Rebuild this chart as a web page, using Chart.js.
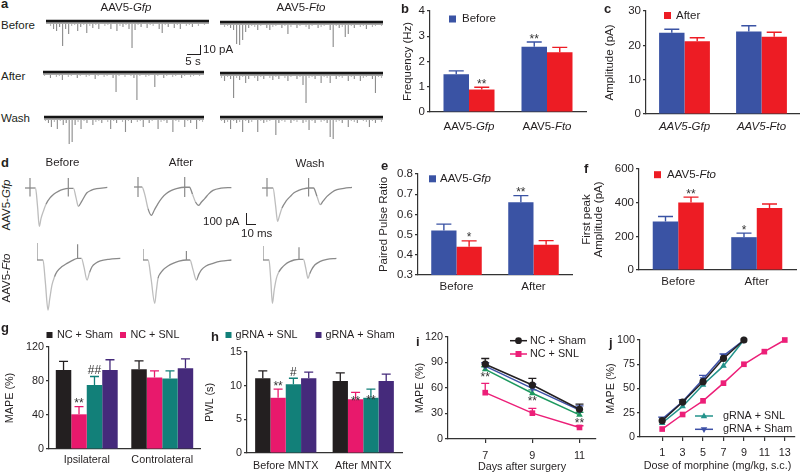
<!DOCTYPE html>
<html>
<head>
<meta charset="utf-8">
<script src="https://cdn.jsdelivr.net/npm/chart.js@4.4.1/dist/chart.umd.min.js"></script>
<style>
  html, body { margin: 0; padding: 0; background: #fff; }
  #fig { position: relative; width: 800px; height: 474px; overflow: hidden; background: #fff;
         font-family: "Liberation Sans", Arial, Helvetica, sans-serif; color: #231f20; }
  #fig canvas { position: absolute; }
  .t { position: absolute; white-space: nowrap; line-height: 1; }
  .sb { position: absolute; background: #231f20; }
</style>
</head>
<body>
<div id="fig"></div>
<script>
// ---- panel a: spontaneous currents, depth of each downward event (pA), left to right
const spontGfpBefore = [3,5,8,10,6,25,8,13,5,4, 10,6,4,12,5,7,4,8,3,5, 4,8,3,10,5,6,4,8,27,9, 4,6,3,7,4,5,3,8,12,4, 6,3,7,4,8,3,5,4,6,3, 5,3,4,3];
const spontGfpAfter = [4,3,6,3,5,4,8,3,5,4, 3,6,4,3,5,4,3,7,4,3, 5,4,3,6,20,4,3,5,3,4, 6,28,4,3,5,4,3,15,4,3, 6,4,3,5,4,3,6,4,3,5, 4,3,4,3];
const spontGfpWash = [4,6,10,5,12,4,8,6,27,25, 8,5,12,4,6,3,8,5,4,6, 3,5,12,4,6,3,5,15,4,6, 3,5,4,10,3,6,4,3,12,5, 4,6,3,15,4,5,3,10,4,6, 3,12,4,5];
const spontFtoBefore = [3,5,4,6,8,22,23,18,10,6, 4,5,8,4,3,6,8,5,4,3, 6,4,12,5,3,6,4,3,5,7, 4,3,6,5,4,3,8,25,4,6, 5,15,12,4,6,3,5,4,7,3, 5,4,3,4];
const spontFtoAfter = [5,8,4,6,25,5,7,4,10,6, 3,5,8,4,6,3,5,7,4,6, 3,5,8,4,3,6,4,12,30,5, 4,6,3,10,4,5,10,3,6,4, 5,3,8,4,6,3,8,5,4,3, 6,20,4,5];
const spontFtoWash = [4,6,5,12,4,6,5,15,4,6, 5,3,15,4,6,5,4,3,18,6, 4,5,3,6,4,5,3,6,5,13, 4,6,3,5,4,6,20,22,5,4, 6,3,10,4,5,6,3,4,5,10, 4,6,3,5];

// ---- panel d: paired-pulse traces, [ms, pA]; artefacts are separate strokes (null = break)
const gfpBeforeTrace = [[0,0],[10.5,0],[12.5,-150],[14.3,-320],[16,-255],[18.3,-195],[21,-135],[25,-83],[29,-50],[33.3,-28],[38,-12],[43.3,-3],[48.5,-3],[51,-80],[53.3,-153],[56.7,-111],[61.7,-42],[66,-20],[71.7,-6],[82.3,5]];
const gfpBeforeArt = [[5,83],[5,-70],null,[43.3,83],[43.3,-70]];
const gfpAfterTrace = [[0,0],[8,0],[11,-70],[14,-180],[17.4,-236],[20.5,-190],[24,-138],[28,-90],[32.4,-55],[37,-30],[42.4,-14],[50.7,-2],[55.5,-2],[58.5,-60],[61.5,-125],[64.7,-153],[67.5,-125],[70.7,-97],[75,-55],[79,-28],[87,-10],[97.4,-5]];
const gfpAfterArt = [[4,83],[4,-83],null,[50.7,83],[50.7,-83]];
const gfpWashTrace = [[0,0],[11,0],[13.5,-140],[15.6,-278],[17.5,-230],[20,-167],[24,-110],[28.3,-70],[32,-40],[36.6,-20],[41,-8],[46.6,0],[51.5,0],[55,-70],[58.3,-139],[61,-110],[65,-70],[70,-35],[75,-14],[82,-3],[90,5]];
const gfpWashArt = [[5,83],[5,-70],null,[46.6,83],[46.6,-70]];
const ftoBeforeTrace = [[0,0],[6,0],[8.3,-180],[11,-417],[12.8,-320],[15,-208],[17.5,-140],[20,-97],[25,-55],[30,-28],[35,-5],[40.6,14],[44.5,14],[47,-60],[50,-167],[52.5,-105],[55,-56],[59,-25],[63.3,-8],[72,6],[83.3,14]];
const ftoBeforeArt = [[0,142],[0,0],null,[40.6,131],[40.6,14]];
const ftoAfterTrace = [[0,0],[5,0],[8,-150],[11.7,-361],[13.3,-260],[15,-153],[17.5,-110],[20,-83],[25,-50],[30,-28],[36,-10],[43.4,0],[47,0],[50,-80],[53.4,-167],[55.8,-120],[58.4,-83],[63,-50],[70,-28],[78,-10],[88.4,0]];
const ftoAfterArt = [[0,92],[0,0],null,[43.4,75],[43.4,0]];
const ftoWashTrace = [[0,0],[6,0],[7.8,-170],[9.4,-361],[11.2,-250],[13.4,-153],[15.8,-100],[18.4,-69],[22.5,-35],[26.7,-14],[31,0],[36,6],[40.5,6],[42.8,-70],[45,-153],[46.7,-115],[48.4,-83],[52,-40],[56.7,-14],[64,5],[73.4,14]];
const ftoWashArt = [[0,117],[0,0],null,[36,106],[36,6]];

// ---- panels b, c
const virusGroups = ["AAV5-Gfp", "AAV5-Fto"];
const freqBefore = [1.5, 2.58];
const freqBeforeErr = [0.13, 0.19];
const freqAfter = [0.89, 2.37];
const freqAfterErr = [0.09, 0.19];
const ampBefore = [23.7, 24.0];
const ampBeforeErr = [1.0, 1.7];
const ampAfter = [21.2, 22.5];
const ampAfterErr = [1.0, 1.3];

// ---- panels e, f
const phases = ["Before", "After"];
const pprGfp = [0.52, 0.66];
const pprGfpErr = [0.032, 0.033];
const pprFto = [0.44, 0.45];
const pprFtoErr = [0.029, 0.02];
const peakGfp = [288, 195];
const peakGfpErr = [30, 24];
const peakFto = [401, 368];
const peakFtoErr = [32, 24];

// ---- panel g
const sides = ["Ipsilateral", "Controlateral"];
const gNcSham = [93, 93.7];
const gNcShamErr = [10, 10];
const gNcSnl = [40.8, 84];
const gNcSnlErr = [9, 8];
const gGrnaSnl = [75.3, 83];
const gGrnaSnlErr = [10, 9];
const gGrnaSham = [93, 95];
const gGrnaShamErr = [12, 11];

// ---- panel h
const mntxGroups = ["Before MNTX", "After MNTX"];
const hNcSham = [11.1, 10.7];
const hNcShamErr = [1.1, 1.2];
const hNcSnl = [8.2, 8.0];
const hNcSnlErr = [1.3, 1.0];
const hGrnaSnl = [10.2, 8.2];
const hGrnaSnlErr = [0.9, 1.3];
const hGrnaSham = [11.1, 10.7];
const hGrnaShamErr = [0.9, 1.0];

// ---- panel i
const days = [7, 9, 11];
const iNcSham = [88, 63.5, 35];
const iNcShamErr = [6.7, 7.8, 6];
const iNcSnl = [54.5, 30.4, 13.6];
const iNcSnlErr = [11, 5.6, 2];
const iGrnaSnl = [82, 53.8, 28.4];
const iGrnaSnlErr = [3, 4, 3];
const iGrnaSham = [85.7, 59.6, 34];
const iGrnaShamErr = [4, 5, 5];

// ---- panel j
const doses = [1, 3, 5, 7, 9, 11, 13];
const jNcSnl = [8.2, 23.2, 37.3, 55.5, 75, 88, 100];
const jNcSham = [16.8, 36, 57, 81, 100];
const jGrnaSnl = [14.4, 31.5, 53.8, 73.3, 100];
const jGrnaSham = [18.5, 36.5, 59.6, 83.6, 100];
const jGrnaShamErr = [2, 2, 4, 2, 0];

// ---- styling
const FONT = '"Liberation Sans", Arial, Helvetica, sans-serif';
const INK = "#231f20";
const AX = "#333333";
const BLUE = "#3a53a4", RED = "#ed1c24";
const BLACK = "#231f20", PINK = "#e8196c", TEAL = "#128079", PURPLE = "#452a7b";
const L_PINK = "#ec1f78", L_GREEN = "#1d9960", L_TEAL = "#23938b", L_BLUE = "#3d50a6";
const FS_TOP = 11.5, FS_BOT = 10.8;

Chart.defaults.font.family = FONT;
Chart.defaults.color = INK;
Chart.defaults.animation = false;
Chart.defaults.responsive = false;
Chart.defaults.plugins.legend.display = false;
Chart.defaults.plugins.tooltip.enabled = false;

const fig = document.getElementById("fig");

function canvasAt(l, t, r, b) {
  l = Math.round(l); t = Math.round(t); r = Math.round(r); b = Math.round(b);
  const c = document.createElement("canvas");
  c.width = r - l;
  c.height = b - t;
  c.style.left = l + "px";
  c.style.top = t + "px";
  c.style.width = (r - l) + "px";
  c.style.height = (b - t) + "px";
  fig.appendChild(c);
  return c;
}

function label(html, x, y, o = {}) {
  const d = document.createElement("div");
  d.className = "t";
  d.innerHTML = html;
  d.style.left = x + "px";
  d.style.top = y + "px";
  d.style.fontSize = (o.size || FS_TOP) + "px";
  if (o.bold) d.style.fontWeight = "bold";
  const tx = o.align === "center" ? "-50%" : o.align === "right" ? "-100%" : "0";
  d.style.transform = "translate(" + tx + ",-50%)" + (o.rot ? " rotate(-90deg)" : "");
  fig.appendChild(d);
}

function scaleBar(x, y, w, h) {
  const d = document.createElement("div");
  d.className = "sb";
  d.style.left = x + "px";
  d.style.top = y + "px";
  d.style.width = w + "px";
  d.style.height = h + "px";
  fig.appendChild(d);
}

function drawRich(ctx, text, x, y, size, align, allItalic) {
  let parts;
  if (allItalic) parts = [[text, true]];
  else if (text.startsWith("AAV5-")) parts = [["AAV5-", false], [text.slice(5), true]];
  else parts = [[text, false]];
  ctx.save();
  ctx.fillStyle = INK;
  ctx.textBaseline = "middle";
  ctx.textAlign = "left";
  let w = 0;
  parts.forEach(([s, it]) => {
    ctx.font = (it ? "italic " : "") + size + "px " + FONT;
    w += ctx.measureText(s).width;
  });
  let cx = align === "center" ? x - w / 2 : x;
  parts.forEach(([s, it]) => {
    ctx.font = (it ? "italic " : "") + size + "px " + FONT;
    ctx.fillText(s, cx, y);
    cx += ctx.measureText(s).width;
  });
  ctx.restore();
}

function drawMarker(ctx, style, x, y, r, color) {
  ctx.save();
  ctx.fillStyle = color;
  ctx.beginPath();
  if (style === "circle") {
    ctx.arc(x, y, r, 0, Math.PI * 2);
  } else if (style === "rect") {
    const s = r * 0.75;
    ctx.rect(x - s, y - s, 2 * s, 2 * s);
  } else {
    const dir = style === "triangleDown" ? -1 : 1;
    ctx.moveTo(x, y - dir * r);
    ctx.lineTo(x + r * 0.9, y + dir * r * 0.6);
    ctx.lineTo(x - r * 0.9, y + dir * r * 0.6);
    ctx.closePath();
  }
  ctx.fill();
  ctx.restore();
}

// error bars (upper half, Prism style), drawn under each dataset
const errorBars = {
  id: "errorBars",
  beforeDatasetDraw(chart, args) {
    const ds = chart.data.datasets[args.index];
    if (!ds.errors) return;
    const ys = chart.scales.y, ctx = chart.ctx;
    ctx.save();
    ctx.strokeStyle = ds.errColor || ds.backgroundColor;
    ctx.lineWidth = ds.errWidth || 1.4;
    args.meta.data.forEach((el, j) => {
      const err = ds.errors[j];
      if (!err) return;
      const v = ds.data[j];
      const val = (v !== null && typeof v === "object") ? v.y : v;
      const top = ys.getPixelForValue(val + err);
      const half = (ds.capWidth || 10) / 2;
      ctx.beginPath();
      ctx.moveTo(el.x, el.y);
      ctx.lineTo(el.x, top);
      ctx.moveTo(el.x - half, top);
      ctx.lineTo(el.x + half, top);
      ctx.stroke();
    });
    ctx.restore();
  }
};

// significance marks (* / #)
const sigMarks = {
  id: "sigMarks",
  afterDatasetsDraw(chart) {
    const ys = chart.scales.y, ctx = chart.ctx;
    chart.data.datasets.forEach((ds, i) => {
      if (!ds.marks) return;
      const meta = chart.getDatasetMeta(i);
      meta.data.forEach((el, j) => {
        const m = ds.marks[j];
        if (!m) return;
        const v = ds.data[j];
        const val = (v !== null && typeof v === "object") ? v.y : v;
        const err = ds.errors ? ds.errors[j] : 0;
        const at = ds.markAt ? ds.markAt[j] : "err";
        let base;
        if (at === "below") base = el.y + 12;
        else if (at === "bar") base = el.y + 6;
        else base = ys.getPixelForValue(val + err) + (m.includes("#") ? -2 : 0.5);
        ctx.save();
        ctx.fillStyle = "#333";
        ctx.font = "12px " + FONT;
        ctx.textAlign = "center";
        ctx.textBaseline = "alphabetic";
        ctx.fillText(m, el.x, base);
        ctx.restore();
      });
    });
  }
};

Chart.register(errorBars, sigMarks);

function keyPlugin(items, ox, oy, size) {
  return {
    id: "key",
    afterDraw(chart) {
      const ctx = chart.ctx;
      items.forEach(it => {
        const y = it.y - oy;
        if (it.box) {
          ctx.fillStyle = it.color;
          ctx.fillRect(it.x - ox, y - it.box / 2, it.box, it.box);
        } else {
          ctx.save();
          ctx.strokeStyle = it.color;
          ctx.lineWidth = 1.5;
          ctx.beginPath();
          ctx.moveTo(it.x - ox, y);
          ctx.lineTo(it.x2 - ox, y);
          ctx.stroke();
          ctx.restore();
          drawMarker(ctx, it.point, (it.x + it.x2) / 2 - ox, y, it.r, it.color);
        }
        drawRich(ctx, it.text, it.tx - ox, y, size, "left", false);
      });
    }
  };
}

function richTicks(size, allItalic, pad) {
  return {
    id: "richTicks",
    afterDraw(chart) {
      const xs = chart.scales.x;
      chart.data.labels.forEach((lab, i) => {
        drawRich(chart.ctx, lab, xs.getPixelForTick(i), chart.chartArea.bottom + pad + size * 0.6, size, "center", allItalic);
      });
    }
  };
}

function yScale(o, L, cl, fs) {
  return {
    min: o.yMin,
    max: o.yMax,
    ticks: { stepSize: o.step, padding: 2, font: { size: fs }, color: INK, callback: o.fmt || (v => v) },
    grid: { display: true, drawOnChartArea: false, drawTicks: true, tickLength: 3, color: AX, lineWidth: 1.2 },
    border: { display: true, color: AX, width: 1.2 },
    title: { display: true, text: o.yTitle, color: INK, font: { size: fs, lineHeight: o.titleLH || 1.2 }, padding: { top: o.titlePad, bottom: 0 } },
    afterFit: s => { s.width = L - cl; }
  };
}

function barPanel(o) {
  const [L, T, R, B] = o.area, [cl, ct, cr, cb] = o.box;
  const fs = o.fs;
  const plugins = [];
  if (o.key) plugins.push(keyPlugin(o.key, cl, ct, fs));
  if (o.rich) plugins.push(richTicks(fs, o.rich === "italic", o.xPad));
  return new Chart(canvasAt(cl, ct, cr, cb), {
    type: "bar",
    data: {
      labels: o.labels,
      datasets: o.series.map(s => ({
        data: s.values, errors: s.errors, marks: s.marks, markAt: s.markAt,
        backgroundColor: s.color, borderWidth: 0,
        barPercentage: 1, categoryPercentage: o.catPct,
        capWidth: o.cap, errWidth: o.errWidth
      }))
    },
    options: {
      layout: { padding: { top: T - ct, right: cr - R, left: 0, bottom: 0 } },
      scales: {
        x: {
          offset: true,
          grid: { display: false, drawTicks: false },
          border: { display: true, color: AX, width: 1.2 },
          ticks: { display: !o.rich, padding: o.xPad, font: { size: fs }, color: INK, maxRotation: 0, autoSkip: false },
          afterFit: s => { s.height = cb - B; }
        },
        y: yScale(o, L, cl, fs)
      }
    },
    plugins
  });
}

function linePanel(o) {
  const [L, T, R, B] = o.area, [cl, ct, cr, cb] = o.box;
  const fs = o.fs;
  return new Chart(canvasAt(cl, ct, cr, cb), {
    type: "scatter",
    data: {
      datasets: o.series.map(s => ({
        data: s.values.map((v, i) => ({ x: o.xs[i], y: v })),
        errors: s.errors, marks: s.marks, markAt: s.markAt,
        showLine: true, borderColor: s.color, backgroundColor: s.color, borderWidth: 1.5,
        pointStyle: s.point, pointRadius: s.r, pointRotation: s.rot || 0, pointBorderWidth: 0,
        capWidth: 8, errWidth: 1.3, clip: false
      }))
    },
    options: {
      layout: { padding: { top: T - ct, right: cr - R, left: 0, bottom: 0 } },
      scales: {
        x: {
          type: "linear", min: o.xMin, max: o.xMax,
          afterBuildTicks: s => { s.ticks = o.xTicks.map(v => ({ value: v })); },
          grid: { display: true, drawOnChartArea: false, drawTicks: true, tickLength: 4, color: AX, lineWidth: 1.2 },
          border: { display: true, color: AX, width: 1.2 },
          ticks: { padding: o.xPad, font: { size: fs }, color: INK, maxRotation: 0 },
          title: { display: true, text: o.xTitle, color: INK, font: { size: fs }, padding: { top: 0, bottom: o.xTitlePad } },
          afterFit: s => { s.height = cb - B; }
        },
        y: yScale(o, L, cl, fs)
      }
    },
    plugins: o.key ? [keyPlugin(o.key, cl, ct, fs)] : []
  });
}

// ---- panel a traces
const zeroLine = {
  id: "zeroLine",
  afterDatasetsDraw(chart) {
    const y = chart.scales.y.getPixelForValue(0), a = chart.chartArea, ctx = chart.ctx;
    ctx.save();
    ctx.strokeStyle = "#a8a8a8";
    ctx.lineWidth = 2;
    ctx.beginPath();
    ctx.moveTo(a.left, y + 2);
    ctx.lineTo(a.right, y + 2);
    ctx.stroke();
    ctx.strokeStyle = "#151515";
    ctx.lineWidth = 2.4;
    ctx.beginPath();
    ctx.moveTo(a.left, y);
    ctx.lineTo(a.right, y);
    ctx.stroke();
    ctx.restore();
  }
};

function spontTrace(depths, left, right, base) {
  new Chart(canvasAt(left, base - 3, right, base + 31), {
    type: "bar",
    data: {
      labels: depths.map((_, i) => i),
      datasets: [{
        data: depths.map(d => -d),
        backgroundColor: ctx => (ctx.raw > -6 ? "#b8b8b8" : "#8e8e8e"),
        borderWidth: 0, barPercentage: 0.38, categoryPercentage: 1
      }]
    },
    options: {
      layout: { padding: { top: 3 } },
      scales: { x: { display: false }, y: { display: false, min: -31, max: 0 } }
    },
    plugins: [zeroLine]
  });
}

spontTrace(spontGfpBefore, 46, 209, 21);
spontTrace(spontGfpAfter, 43, 204, 72);
spontTrace(spontGfpWash, 44, 204, 117);
spontTrace(spontFtoBefore, 220, 383, 22);
spontTrace(spontFtoAfter, 220, 383, 73);
spontTrace(spontFtoWash, 220, 383, 117);

// ---- panel d traces (1 px = 1 ms, 1 px = 8.33 pA)
function toXY(pairs) {
  let last = 0;
  return pairs.map(p => {
    if (p === null) return { x: last, y: null };
    last = p[0];
    return { x: p[0], y: p[1] };
  });
}

function pulseTrace(trace, art, left, base) {
  new Chart(canvasAt(left, base - 21, left + 100, base + 54), {
    type: "scatter",
    data: {
      datasets: [
        {
          data: toXY(trace), showLine: true, pointRadius: 0, borderWidth: 1.3,
          borderColor: "#8a8a8a", cubicInterpolationMode: "monotone",
          segment: {
            borderColor: ctx => Math.abs(ctx.p1.y - ctx.p0.y) > 2.5 * Math.abs(ctx.p1.x - ctx.p0.x) ? "#bdbdbd" : "#8a8a8a"
          }
        },
        { data: toXY(art), showLine: true, pointRadius: 0, borderWidth: 1.2, borderColor: "#8a8a8a", spanGaps: false }
      ]
    },
    options: {
      layout: { padding: 0 },
      scales: {
        x: { type: "linear", display: false, min: 0, max: 100 },
        y: { display: false, min: -450, max: 175 }
      }
    }
  });
}

pulseTrace(gfpBeforeTrace, gfpBeforeArt, 25, 188);
pulseTrace(gfpAfterTrace, gfpAfterArt, 134, 187);
pulseTrace(gfpWashTrace, gfpWashArt, 262, 188);
pulseTrace(ftoBeforeTrace, ftoBeforeArt, 37, 260);
pulseTrace(ftoAfterTrace, ftoAfterArt, 143, 260);
pulseTrace(ftoWashTrace, ftoWashArt, 263, 260);

// ---- panel b
barPanel({
  area: [430, 11, 586, 112], box: [395, 0, 592, 140], fs: FS_TOP,
  labels: virusGroups, rich: "mixed", xPad: 8,
  yMin: 0, yMax: 4, step: 1, yTitle: "Frequency (Hz)", titlePad: 5.6,
  catPct: 0.654, cap: 15, errWidth: 1.4,
  series: [
    { values: freqBefore, errors: freqBeforeErr, color: BLUE, marks: ["", "**"] },
    { values: freqAfter, errors: freqAfterErr, color: RED, marks: ["**", ""] }
  ],
  key: [{ box: 7, color: BLUE, x: 449, y: 19, tx: 462, text: "Before" }]
});

// ---- panel c
barPanel({
  area: [646, 11, 800, 114], box: [600, 0, 804, 140], fs: FS_TOP,
  labels: virusGroups, rich: "italic", xPad: 6,
  yMin: 0, yMax: 30, step: 10, yTitle: "Amplitude (pA)", titlePad: 3.2,
  catPct: 0.66, cap: 15, errWidth: 1.4,
  series: [
    { values: ampBefore, errors: ampBeforeErr, color: BLUE },
    { values: ampAfter, errors: ampAfterErr, color: RED }
  ],
  key: [{ box: 7, color: RED, x: 664, y: 15.5, tx: 676, text: "After" }]
});

// ---- panel e
barPanel({
  area: [418, 174, 572, 275], box: [372, 150, 576, 300], fs: FS_TOP,
  labels: phases, xPad: 5,
  yMin: 0.3, yMax: 0.8, step: 0.1, fmt: v => v.toFixed(1), yTitle: "Paired Pulse Ratio", titlePad: 5.1,
  catPct: 0.656, cap: 15, errWidth: 1.4,
  series: [
    { values: pprGfp, errors: pprGfpErr, color: BLUE, marks: ["", "**"] },
    { values: pprFto, errors: pprFtoErr, color: RED, marks: ["*", ""] }
  ],
  key: [{ box: 7, color: BLUE, x: 429, y: 178.8, tx: 440, text: "AAV5-Gfp" }]
});

// ---- panel f
barPanel({
  area: [639, 169, 796, 270], box: [578, 150, 800, 300], fs: FS_TOP,
  labels: phases, xPad: 5,
  yMin: 0, yMax: 600, step: 200, yTitle: ["First peak", "Amplitude (pA)"], titlePad: 3.2, titleLH: 1.0,
  catPct: 0.65, cap: 15, errWidth: 1.4,
  series: [
    { values: peakGfp, errors: peakGfpErr, color: BLUE, marks: ["", "*"] },
    { values: peakFto, errors: peakFtoErr, color: RED, marks: ["**", ""] }
  ],
  key: [{ box: 7, color: RED, x: 654, y: 174.7, tx: 667, text: "AAV5-Fto" }]
});

// ---- panel g
barPanel({
  area: [49, 347, 200, 449], box: [0, 320, 203, 474], fs: FS_BOT,
  labels: sides, xPad: 4.5,
  yMin: 0, yMax: 120, step: 40, yTitle: "MAPE (%)", titlePad: 3.5,
  catPct: 0.82, cap: 9, errWidth: 1.3,
  series: [
    { values: gNcSham, errors: gNcShamErr, color: BLACK },
    { values: gNcSnl, errors: gNcSnlErr, color: PINK, marks: ["**", ""] },
    { values: gGrnaSnl, errors: gGrnaSnlErr, color: TEAL, marks: ["##", ""] },
    { values: gGrnaSham, errors: gGrnaShamErr, color: PURPLE }
  ],
  key: [
    { box: 6, color: BLACK, x: 46.5, y: 335, tx: 57, text: "NC + Sham" },
    { box: 6, color: PINK, x: 120, y: 335, tx: 130.5, text: "NC + SNL" }
  ]
});

// ---- panel h
barPanel({
  area: [247, 352, 402, 453], box: [203, 320, 406, 474], fs: FS_BOT,
  labels: mntxGroups, xPad: 7,
  yMin: 0, yMax: 15, step: 5, yTitle: "PWL (s)", titlePad: 0.5,
  catPct: 0.79, cap: 9, errWidth: 1.3,
  series: [
    { values: hNcSham, errors: hNcShamErr, color: BLACK },
    { values: hNcSnl, errors: hNcSnlErr, color: PINK, marks: ["**", "**"], markAt: ["err", "bar"] },
    { values: hGrnaSnl, errors: hGrnaSnlErr, color: TEAL, marks: ["#", "**"], markAt: ["err", "bar"] },
    { values: hGrnaSham, errors: hGrnaShamErr, color: PURPLE }
  ],
  key: [
    { box: 6, color: TEAL, x: 225.5, y: 335, tx: 235.5, text: "gRNA + SNL" },
    { box: 6, color: PURPLE, x: 315.5, y: 335, tx: 325.5, text: "gRNA + Sham" }
  ]
});

// ---- panel i
linePanel({
  area: [448, 337, 597, 439], box: [410, 320, 600, 478], fs: FS_BOT,
  xs: days, xMin: 5.42, xMax: 11.7, xTicks: days, xPad: 6.5,
  xTitle: "Days after surgery", xTitlePad: 4.2,
  yMin: 0, yMax: 120, step: 30, yTitle: "MAPE (%)", titlePad: 3.5,
  series: [
    { values: iNcSham, errors: iNcShamErr, color: BLACK, point: "circle", r: 3.6 },
    { values: iGrnaSham, errors: iGrnaShamErr, color: L_BLUE, point: "triangle", r: 3.8, rot: 180 },
    { values: iGrnaSnl, errors: iGrnaSnlErr, color: L_GREEN, point: "triangle", r: 3.8, marks: ["**", "**", "**"], markAt: ["below", "below", "below"] },
    { values: iNcSnl, errors: iNcSnlErr, color: L_PINK, point: "rect", r: 4 }
  ],
  key: [
    { color: BLACK, point: "circle", r: 3.4, x: 510, x2: 527, y: 340.7, tx: 530, text: "NC + Sham" },
    { color: L_PINK, point: "rect", r: 4, x: 510, x2: 527, y: 354, tx: 530, text: "NC + SNL" }
  ]
});

// ---- panel j
linePanel({
  area: [640, 340, 795, 437], box: [598, 320, 800, 478], fs: FS_BOT,
  xs: doses, xMin: -1.17, xMax: 14, xTicks: doses, xPad: 5.5,
  xTitle: "Dose of morphine (mg/kg, s.c.)", xTitlePad: 5.5,
  yMin: 0, yMax: 100, step: 25, yTitle: "MAPE (%)", titlePad: 6.5,
  series: [
    { values: jNcSham, color: BLACK, point: "circle", r: 3.6 },
    { values: jGrnaSham, errors: jGrnaShamErr, color: L_BLUE, point: "triangle", r: 3.8, rot: 180 },
    { values: jGrnaSnl, color: L_TEAL, point: "triangle", r: 3.8 },
    { values: jNcSnl, color: L_PINK, point: "rect", r: 4 }
  ],
  key: [
    { color: L_TEAL, point: "triangle", r: 3.6, x: 695, x2: 713, y: 416, tx: 723, text: "gRNA + SNL" },
    { color: L_BLUE, point: "triangleDown", r: 3.6, x: 695, x2: 713, y: 429.3, tx: 723, text: "gRNA + Sham" }
  ]
});

// ---- panel letters and free labels
[["a", 1, 3], ["b", 401, 8], ["c", 604, 8], ["d", 1, 162], ["e", 381, 165],
 ["f", 584, 168], ["g", 1, 327], ["h", 211, 336], ["i", 416, 341], ["j", 609, 342]]
  .forEach(([s, x, y]) => label(s, x, y, { bold: true, size: 13 }));

label("AAV5-<i>Gfp</i>", 126, 8, { align: "center" });
label("AAV5-<i>Fto</i>", 301, 8, { align: "center" });
label("Before", 1, 26);
label("After", 1, 77);
label("Wash", 1, 119);
label("10 pA", 203, 50);
label("5 s", 193, 62, { align: "center" });
scaleBar(199.5, 45, 1.4, 10);
scaleBar(187, 54, 14, 1.4);

label("Before", 62.5, 163, { align: "center" });
label("After", 181, 163, { align: "center" });
label("Wash", 310, 164, { align: "center" });
label("AAV5-<i>Gfp</i>", 7, 205, { align: "center", rot: true });
label("AAV5-<i>Fto</i>", 7, 278, { align: "center", rot: true });
label("100 pA", 203, 222);
label("10 ms", 241, 234);
scaleBar(245.5, 213, 1.3, 12);
scaleBar(245.5, 224, 10, 1.3);
</script>
</body>
</html>
